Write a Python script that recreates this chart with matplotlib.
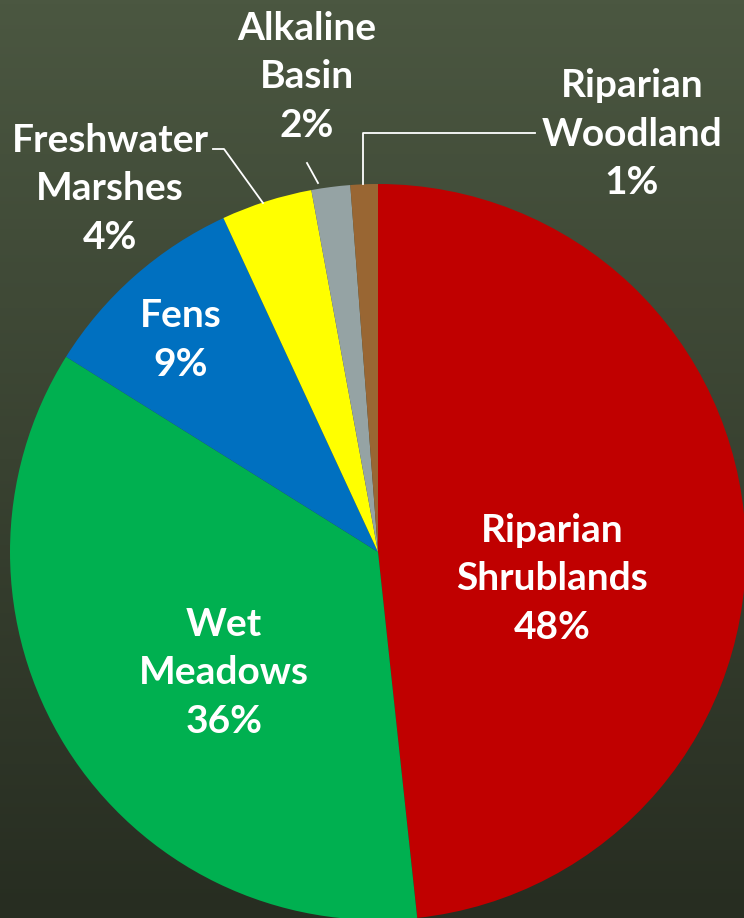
import numpy as np
import matplotlib
matplotlib.use("Agg")
import matplotlib.pyplot as plt

categories = ["Riparian\nShrublands", "Wet\nMeadows", "Fens", "Freshwater\nMarshes",
              "Alkaline\nBasin", "Riparian\nWoodland"]
values = [48.3, 35.6, 9.2, 4.0, 1.7, 1.2]
colors = ["#C00000", "#00B050", "#0070C0", "#FFFF00", "#95A3A4", "#996633"]

W, H = 744, 918
fig = plt.figure(figsize=(W / 100, H / 100), dpi=100)

# background gradient
bg = fig.add_axes([0, 0, 1, 1])
bg.set_axis_off()
top = np.array([0x4b, 0x57, 0x41]) / 255
bot = np.array([0x27, 0x2d, 0x21]) / 255
t = np.linspace(0, 1, 256)[:, None]
grad = top[None, :] * (1 - t) + bot[None, :] * t
bg.imshow(grad[:, None, :], aspect="auto", extent=[0, 1, 0, 1])

ax = fig.add_axes([0, 0, 1, 1])
ax.set_axis_off()
ax.set_xlim(0, W)
ax.set_ylim(0, H)
ax.set_aspect("equal")

cx, cy, r = 378, H - 552, 368
ax.pie(values, colors=colors, startangle=90, counterclock=False,
       center=(cx, cy), radius=r, frame=True,
       wedgeprops=dict(linewidth=0))
ax.set_axis_off()
ax.set_xlim(0, W)
ax.set_ylim(0, H)

label_pos = [(552, 579), (224, 673), (181, 340), (110, 189), (307, 77), (632, 134)]
for cat, v, (x, y) in zip(categories, values, label_pos):
    ax.text(x, H - y, f"{cat}\n{v:.0f}%", ha="center", va="center",
            color="white", fontsize=28, fontweight="bold", family=["Lato", "DejaVu Sans"],
            linespacing=1.45)

lc = dict(color="white", lw=1.3)
ax.plot([213, 224, 263], [H - 149, H - 149, H - 203], **lc)
ax.plot([307, 318], [H - 163, H - 183], **lc)
ax.plot([363, 363, 535], [H - 184, H - 133, H - 133], **lc)

fig.savefig("out.png", dpi=100)
